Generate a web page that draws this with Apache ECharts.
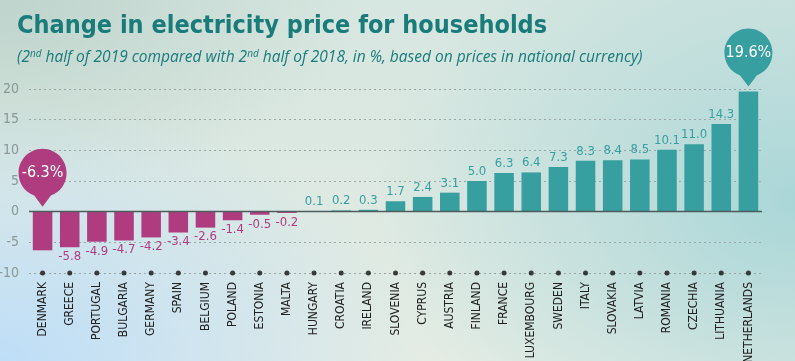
<!DOCTYPE html>
<html><head><meta charset="utf-8">
<script src="https://cdn.jsdelivr.net/npm/echarts@6/dist/echarts.min.js"></script>
<style>
html,body{margin:0;padding:0;}
#bg{position:absolute;left:0;top:0;width:795px;height:361px;
background:
 radial-gradient(ellipse 420px 260px at 0px 361px, rgba(190,222,248,1) 0%, rgba(190,222,248,0) 100%),
 radial-gradient(ellipse 420px 300px at 795px 200px, rgba(170,214,216,1) 0%, rgba(170,214,216,0) 100%),
 radial-gradient(ellipse 360px 200px at 0px 0px, rgba(190,212,204,1) 0%, rgba(190,212,204,0) 100%),
 linear-gradient(180deg,#d6e6e0 0%,#e4ece4 100%);}
#c{position:absolute;left:0;top:0;width:795px;height:361px;}
</style></head>
<body><div id="bg"></div><div id="c"></div>
<script>
const categories = ['DENMARK','GREECE','PORTUGAL','BULGARIA','GERMANY','SPAIN','BELGIUM','POLAND','ESTONIA','MALTA','HUNGARY','CROATIA','IRELAND','SLOVENIA','CYPRUS','AUSTRIA','FINLAND','FRANCE','LUXEMBOURG','SWEDEN','ITALY','SLOVAKIA','LATVIA','ROMANIA','CZECHIA','LITHUANIA','NETHERLANDS'];
const values = [-6.3,-5.8,-4.9,-4.7,-4.2,-3.4,-2.6,-1.4,-0.5,-0.2,0.1,0.2,0.3,1.7,2.4,3.1,5.0,6.3,6.4,7.3,8.3,8.4,8.5,10.1,11.0,14.3,19.6];
const yTicks = [-10,-5,0,5,10,15,20];
const yMin = -10, yMax = 20;

const PINK = '#b03c80', TEAL = '#379f9f';
const FONT = "'DejaVu Sans Condensed','Liberation Sans Narrow',sans-serif";
const bubble = 'path://M23,0 C35.7,0 46,10.3 46,23 C46,33 40,41 31,44.5 L23,55 L15,44.5 C6,41 0,33 0,23 C0,10.3 10.3,0 23,0 Z';

const minIdx = values.indexOf(Math.min(...values));
const maxIdx = values.indexOf(Math.max(...values));

const chart = echarts.init(document.getElementById('c'), null, {renderer:'canvas'});
chart.setOption({
  backgroundColor: 'transparent',
  animation: false,
  title: {
    text: 'Change in electricity price for households',
    subtext: '{i|(2}{s|nd}{i| half of 2019 compared with 2}{s|nd}{i| half of 2018, in %, based on prices in national currency)}',
    left: 12, top: 9, itemGap: 10,
    textStyle: {fontFamily: FONT, fontWeight: 'bold', fontSize: 25, color: '#1a7b7b'},
    subtextStyle: {
      rich: {
        i: {fontFamily: "'Open Sans',sans-serif", fontStyle: 'italic', fontSize: 15.5, color: '#1a7b7b'},
        s: {fontFamily: "'Open Sans',sans-serif", fontStyle: 'italic', fontSize: 10, color: '#1a7b7b', verticalAlign: 'top', padding: [0,0,8,0]}
      }
    }
  },
  grid: {left: 29, right: 33, top: 89, bottom: 88, containLabel: false, outerBoundsMode: 'none'},
  xAxis: {
    type: 'category', data: categories, position: 'bottom',
    axisLine: {show: false, onZero: false}, axisTick: {show: false},
    axisLabel: {rotate: 90, interval: 0, margin: 9, fontFamily: FONT, fontSize: 12, color: '#222'}
  },
  yAxis: {
    type: 'value', min: yMin, max: yMax, interval: 5,
    axisLine: {show: false}, axisTick: {show: false},
    axisLabel: {fontFamily: FONT, fontSize: 14, color: '#8a9896', margin: 10,
      formatter: v => yTicks.includes(v) ? String(v) : ''},
    splitLine: {lineStyle: {type: [2,3], color: '#9aa8a6', width: 1}}
  },
  series: [
    {
      type: 'bar', barWidth: '72%',
      data: values.map((v, i) => ({value: v, itemStyle: {color: v < 0 ? PINK : TEAL},
        label: {show: i !== minIdx && i !== maxIdx, position: v < 0 ? 'bottom' : 'top', distance: 3,
          color: v < 0 ? PINK : TEAL}})),
      label: {fontFamily: FONT, fontSize: 13, formatter: p => p.value.toFixed(1)},
      markLine: {
        silent: true, symbol: 'none', label: {show: false},
        lineStyle: {type: 'solid', color: '#4c5c5c', width: 1.3},
        data: [{yAxis: 0}]
      },
      markPoint: {
        symbol: bubble, symbolSize: [48, 58], symbolKeepAspect: false,
        symbolOffset: [0, -34],
        label: {show: true, color: '#fff', fontFamily: FONT, fontSize: 16, offset: [0, -5],
          formatter: p => (p.data.v < 0 ? '-' + Math.abs(p.data.v).toFixed(1) : p.data.v.toFixed(1)) + '%'},
        data: [
          {coord: [categories[minIdx], 0], v: values[minIdx], itemStyle: {color: PINK}},
          {coord: [categories[maxIdx], values[maxIdx]], v: values[maxIdx], itemStyle: {color: TEAL}}
        ]
      }
    },
    {
      type: 'scatter', symbol: 'circle', symbolSize: 5, silent: true,
      itemStyle: {color: '#111'},
      data: categories.map(() => yMin)
    }
  ]
});
</script></body></html>
